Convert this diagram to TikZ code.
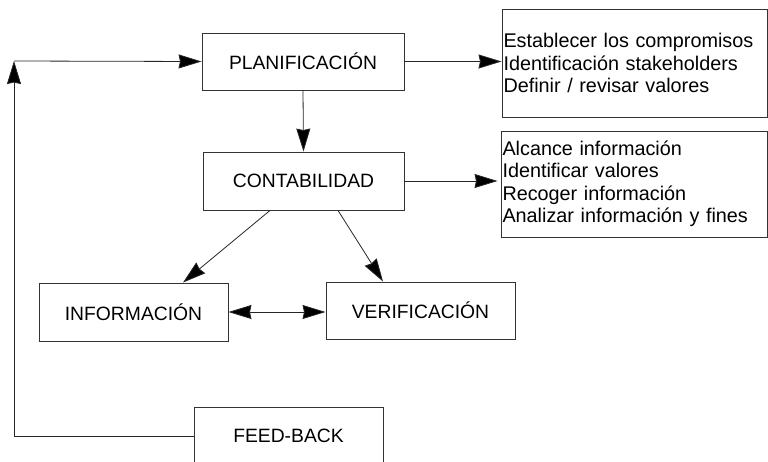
\documentclass[tikz,border=0pt]{standalone}
\usepackage{fontspec}
\setmainfont{Liberation Sans}
\usetikzlibrary{arrows.meta}
\begin{document}
\begin{tikzpicture}[x=1pt,y=-1pt,
  lbl/.style={draw=black!80, line width=0.9pt, rectangle, inner sep=0pt,
     font=\fontsize{19.3}{22}\selectfont},
  lst/.style={draw=black!80, line width=0.9pt, rectangle, inner xsep=1.5pt, inner ysep=0pt,
     align=left, font=\fontsize{19.8}{22.5}\selectfont},
  tip/.tip={Stealth[length=23pt,width=14pt,inset=1.5pt,fill=black]},
  arr/.style={draw=black!85, line width=0.8pt, -tip},
  darr/.style={draw=black!85, line width=0.8pt, tip-tip},
  ln/.style={draw=black!85, line width=0.8pt}]
\useasboundingbox (0,0) rectangle (768,461);
\clip (0,0) rectangle (768,461);
\node[lbl, minimum width=202, minimum height=57] (plan) at (303,61.5) {PLANIFICACIÓN};
\node[lbl, minimum width=201, minimum height=58] (cont) at (303.5,181) {CONTABILIDAD};
\node[lbl, minimum width=189, minimum height=58] (info) at (133.5,312) {INFORMACIÓN};
\node[lbl, minimum width=189, minimum height=57] (verif) at (420.5,310.5) {VERIFICACIÓN};
\node[lbl, minimum width=189, minimum height=58] (fb) at (288.5,436) {FEED-BACK};
\node[lst, minimum width=265, minimum height=108, text width=262] (t1) at (634.5,63)
  {Establecer los compromisos\\Identificación stakeholders\\Definir / revisar valores};
\node[lst, minimum width=266, minimum height=106, text width=263] (t2) at (634,184)
  {Alcance información\\Identificar valores\\Recoger información\\Analizar información y fines};
\coordinate (top) at (14,61);
\draw[arr] (plan.south) -- (cont.north);
\draw[arr] (plan.east) -- (plan.east -| t1.west);
\draw[arr] (cont.east) -- ([xshift=-3]cont.east -| t2.west);
\draw[arr] ([xshift=-33.5]cont.south) -- ([xshift=49.5]info.north);
\draw[arr] ([xshift=34.5]cont.south) -- ([xshift=-37.5]verif.north);
\draw[darr] (info.east) -- (info.east -| verif.west);
\draw[arr] (fb.west) -| (top);
\draw[arr] (top) -- (plan.west);
\end{tikzpicture}
\end{document}
